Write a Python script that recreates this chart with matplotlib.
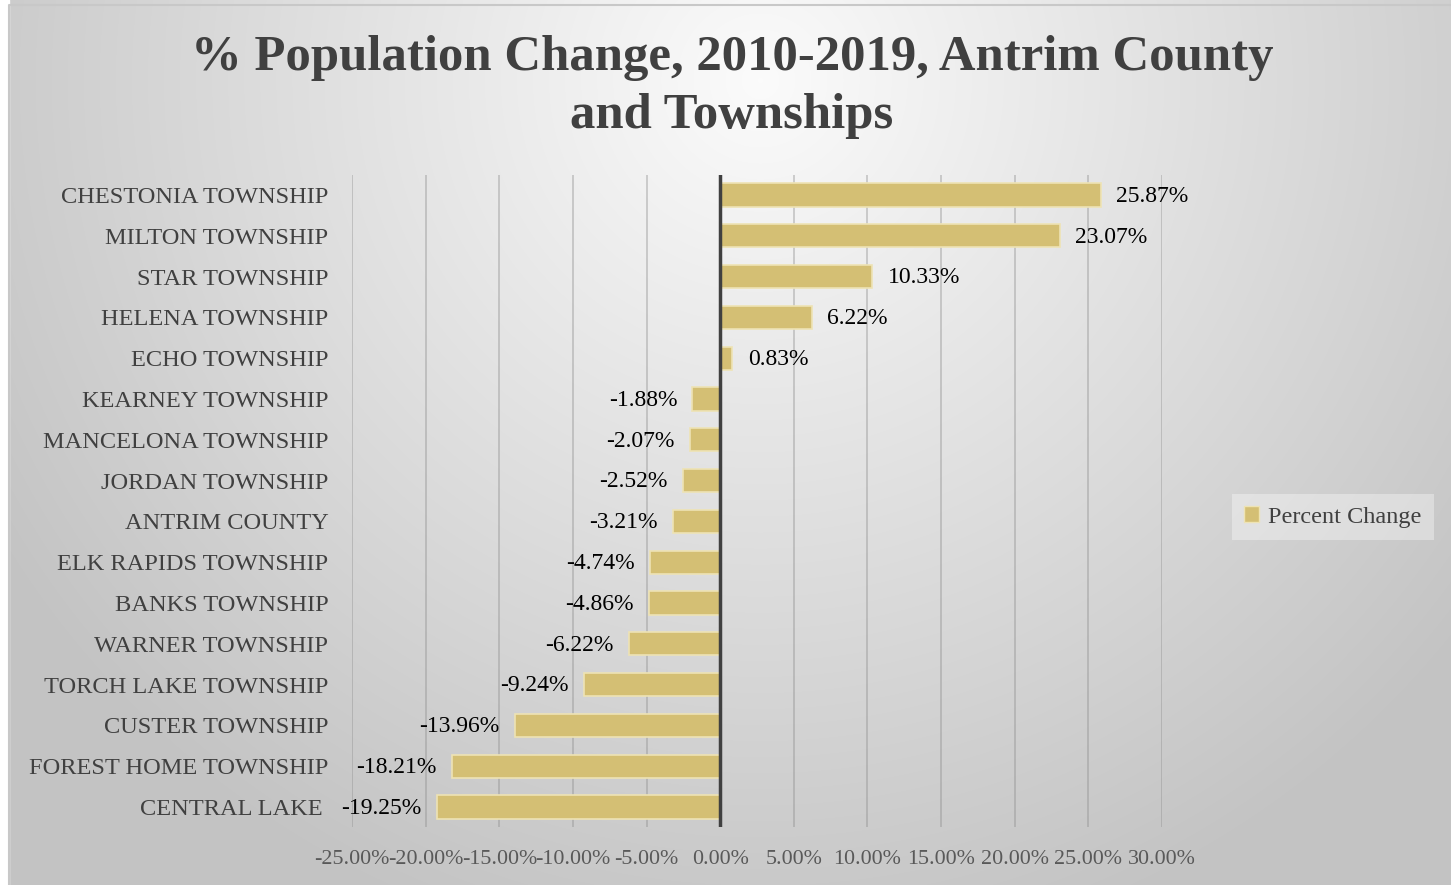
import numpy as np
import matplotlib
matplotlib.use("Agg")
import matplotlib.pyplot as plt
from matplotlib.patches import Patch

# data (top to bottom as shown)
places = ["CHESTONIA TOWNSHIP", "MILTON TOWNSHIP", "STAR TOWNSHIP", "HELENA TOWNSHIP",
          "ECHO TOWNSHIP", "KEARNEY TOWNSHIP", "MANCELONA TOWNSHIP", "JORDAN TOWNSHIP",
          "ANTRIM COUNTY", "ELK RAPIDS TOWNSHIP", "BANKS TOWNSHIP", "WARNER TOWNSHIP",
          "TORCH LAKE TOWNSHIP", "CUSTER TOWNSHIP", "FOREST HOME TOWNSHIP", "CENTRAL LAKE "]
pct_change = [25.87, 23.07, 10.33, 6.22, 0.83, -1.88, -2.07, -2.52,
              -3.21, -4.74, -4.86, -6.22, -9.24, -13.96, -18.21, -19.25]
xticks = [-25, -20, -15, -10, -5, 0, 5, 10, 15, 20, 25, 30]

serif = ["Liberation Serif", "DejaVu Serif"]
plt.rcParams["font.family"] = serif

fig = plt.figure(figsize=(14.51, 8.85), dpi=100)

# radial gray gradient background
bg = fig.add_axes([0, 0, 1, 1], zorder=-10)
W, H = 1451, 885
yy, xx = np.mgrid[0:H, 0:W]
d = np.sqrt(((xx - 760) / 900.0) ** 2 + ((yy - 80) / 900.0) ** 2)
d = np.clip(d, 0, 1)
shade = 0.985 - 0.22 * d
img = np.dstack([shade, shade, shade])
bg.imshow(img, extent=[0, W, H, 0], aspect="auto")
bg.set_xlim(0, W)
bg.set_ylim(H, 0)
bg.axis("off")
# white outer margin like the screenshot
bg.fill_between([0, 9], 0, H, color="white", zorder=2)
bg.plot([9, 9, W], [H, 5, 5], color="#c8c8c8", lw=1.5, zorder=3)

ax = fig.add_axes([352 / W, 1 - 827.4 / H, (1162 - 352) / W, (827.4 - 174.6) / H])
ax.patch.set_alpha(0)

y = np.arange(len(places))
ax.barh(y, pct_change, height=0.57, color="#d4bf74", edgecolor="#eee3b4", linewidth=1.2, zorder=3)
ax.axvline(0, color="#404040", lw=2.5, zorder=4)

for yi, v in zip(y, pct_change):
    if v >= 0:
        ax.annotate(f"{v:.2f}%", (v, yi), xytext=(11, -1), textcoords="offset points",
                    ha="left", va="center", fontsize=17, color="black", zorder=5)
    else:
        ax.annotate(f"{v:.2f}%", (v, yi), xytext=(-11, -1), textcoords="offset points",
                    ha="right", va="center", fontsize=17, color="black", zorder=5)

ax.set_xlim(-25, 30)
ax.set_ylim(len(places) - 0.5, -0.5)
ax.set_xticks(xticks)
ax.set_xticklabels([f"{t:.2f}%" for t in xticks], fontsize=15.8, color="#595959")
ax.set_yticks(y)
ax.set_yticklabels(places, fontsize=17.6, color="#404040")
ax.tick_params(axis="x", length=0, pad=16)
ax.tick_params(axis="y", length=0, pad=17)
ax.grid(axis="x", color="#8c8c8c", alpha=0.45, lw=1.2, zorder=0)
ax.set_axisbelow(True)
for s in ax.spines.values():
    s.set_visible(False)

fig.text(732 / W, 1 - 87 / H, "% Population Change, 2010-2019, Antrim County\nand Townships",
         ha="center", va="center", fontsize=36.5, fontweight="bold", color="#404040",
         linespacing=1.35)

leg = fig.legend(handles=[Patch(facecolor="#d4bf74", edgecolor="#eee3b4", label="Percent Change")],
                 loc="center", bbox_to_anchor=(1333 / W, 1 - 517 / H), frameon=True,
                 fontsize=17.5, handlelength=0.6, handleheight=0.6, handletextpad=0.4,
                 borderpad=0.5, fancybox=False)
leg.get_frame().set_facecolor("white")
leg.get_frame().set_alpha(0.35)
leg.get_frame().set_edgecolor("none")
for t in leg.get_texts():
    t.set_color("#404040")

fig.savefig("out.png", dpi=100)
